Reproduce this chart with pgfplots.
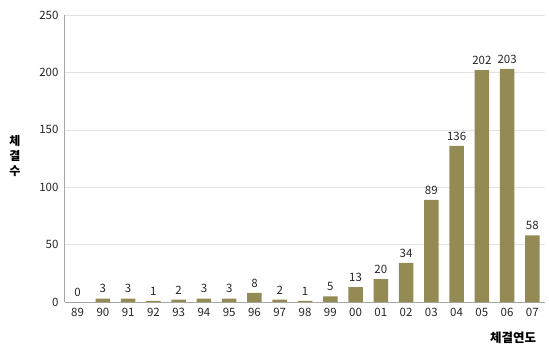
\documentclass[border=0pt]{standalone}
\usepackage{pgfplots}
\pgfplotsset{compat=1.18}
\usepackage{fontspec}
\setmainfont{Noto Sans CJK KR}
\definecolor{barc}{HTML}{948A54}
\definecolor{gridc}{HTML}{E3E3E3}
\definecolor{axc}{HTML}{A6A6A6}
\begin{document}
\begin{tikzpicture}
\fill[white] (-65pt,-43pt) rectangle (484pt,302pt);
\begin{axis}[
  scale only axis, width=480pt, height=287pt,
  xmin=-0.5, xmax=18.5, ymin=0, ymax=250,
  ytick={0,50,100,150,200,250},
  xtick={0,...,18},
  xticklabels={89,90,91,92,93,94,95,96,97,98,99,00,01,02,03,04,05,06,07},
  axis lines=left, axis line style={axc, line width=1pt, -},
  separate axis lines,
  x axis line style={line width=0.8pt},
  major tick length=0pt,
  ymajorgrids, grid style={gridc, line width=0.6pt},
  tick label style={font=\fontsize{11.5}{13}\selectfont, text=black!85},
  /pgf/number format/assume math mode=true,
  yticklabel style={xshift=-3pt},
  xticklabel style={yshift=-3pt},
  ybar, bar width=14.5pt,
  nodes near coords,
  every node near coord/.append style={font=\fontsize{11.5}{13}\selectfont, text=black!85, yshift=2pt},
  clip=false,
]
\addplot[fill=barc, draw=none] coordinates {
(0,0) (1,3) (2,3) (3,1) (4,2) (5,3) (6,3) (7,8) (8,2) (9,1) (10,5) (11,13) (12,20) (13,34) (14,89) (15,136) (16,202) (17,203) (18,58)};
\node[align=center, font=\bfseries\fontsize{12}{15}\selectfont, anchor=center] at (rel axis cs:0,0.51) [xshift=-50pt] {체\\결\\수};
\node[font=\bfseries\fontsize{12.5}{14}\selectfont, anchor=center] at (rel axis cs:1,0) [xshift=-32pt, yshift=-36pt] {체결연도};
\end{axis}
\end{tikzpicture}
\end{document}
